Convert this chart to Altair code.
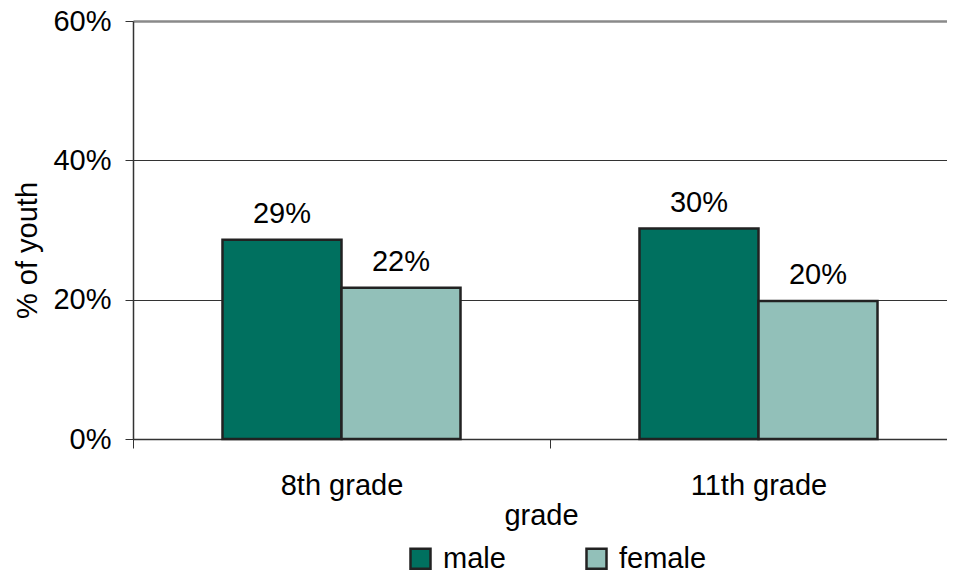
import altair as alt
import pandas as pd

grades = ["8th grade", "8th grade", "11th grade", "11th grade"]
genders = ["male", "female", "male", "female"]
values = [0.286, 0.217, 0.302, 0.198]
labels = ["29%", "22%", "30%", "20%"]

grade_order = ["8th grade", "11th grade"]
gender_order = ["male", "female"]
colors = ["#00705F", "#92C0B9"]
y_ticks = [0, 0.2, 0.4, 0.6]

df = pd.DataFrame({"grade": grades, "gender": genders, "value": values, "label": labels})

FONT = "Liberation Sans"
FS = 29

x_enc = alt.X(
    "grade:N",
    sort=grade_order,
    scale=alt.Scale(range=[0, 834], paddingInner=0, paddingOuter=0),
    axis=alt.Axis(
        title="grade",
        tickBand="extent",
        tickSize=9,
        tickColor="#333333",
        tickWidth=1,
        domainColor="#333333",
        domainWidth=1.5,
        labelAngle=0,
        labelFontSize=FS,
        labelColor="#000000",
        labelBaseline="alphabetic",
        labelPadding=46,
        titleFontSize=FS,
        titleFontWeight="normal",
        titleColor="#000000",
        titleX=408,
        titleY=85,
        titleBaseline="alphabetic",
        titleAlign="center",
    ),
)
xoff_enc = alt.XOffset(
    "gender:N",
    sort=gender_order,
    scale=alt.Scale(paddingInner=0, paddingOuter=0.752),
)

y_enc = alt.Y(
    "value:Q",
    scale=alt.Scale(domain=[0, 0.6], nice=False),
    axis=alt.Axis(
        title="% of youth",
        format=".0%",
        values=y_ticks,
        tickSize=8,
        tickColor="#333333",
        domainColor="#333333",
        domainWidth=1.5,
        labelFontSize=FS,
        labelColor="#000000",
        labelPadding=14,
        grid=True,
        gridColor=alt.condition("datum.value >= 0.59", alt.value("#8a8a8a"), alt.value("#333333")),
        gridWidth=alt.condition("datum.value >= 0.59", alt.value(2.5), alt.value(1)),
        titleFontSize=FS,
        titleFontWeight="normal",
        titleColor="#000000",
        titleX=-106,
        titleY=229,
        titleAngle=-90,
        titleBaseline="middle",
        titleAlign="center",
    ),
)

bars = alt.Chart(df).mark_bar(stroke="#222222", strokeWidth=2.5).encode(
    x=x_enc,
    xOffset=xoff_enc,
    y=y_enc,
    color=alt.Color(
        "gender:N",
        sort=gender_order,
        scale=alt.Scale(domain=gender_order, range=colors),
        legend=alt.Legend(
            title=None,
            orient="none",
            legendX=273,
            legendY=523,
            direction="horizontal",
            symbolType="square",
            symbolSize=400,
            symbolStrokeColor="#222222",
            symbolStrokeWidth=2.5,
            symbolOpacity=1,
            labelFontSize=FS,
            labelColor="#000000",
            labelOffset=8,
            columnPadding=75,
        ),
    ),
)

text = alt.Chart(df).mark_text(
    fontSize=FS, color="#000000", baseline="alphabetic", dy=-17, font=FONT
).encode(
    x=alt.X("grade:N", sort=grade_order),
    xOffset=alt.XOffset("gender:N", sort=gender_order),
    y=alt.Y("value:Q"),
    text="label:N",
)

chart = (
    alt.layer(bars, text)
    .properties(
        width=814,
        height=418,
        padding={"left": 125, "top": 13, "right": 0, "bottom": 135},
        autosize=alt.AutoSizeParams(type="none"),
        background="#ffffff",
    )
    .configure(font=FONT)
    .configure_view(stroke=None)
)

chart.save("out.html", embed_options={"renderer": "svg", "actions": False})
